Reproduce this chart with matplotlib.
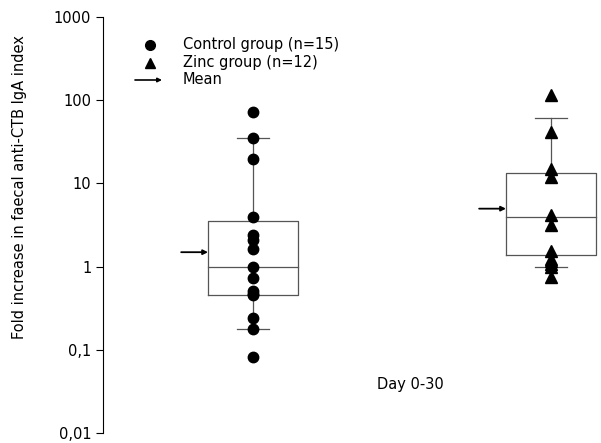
import matplotlib.pyplot as plt
from matplotlib.ticker import FixedLocator, FixedFormatter, NullLocator

# values (log scale)
control = [72, 34.7, 19.4, 4.0, 2.38, 2.07, 1.64, 1.0, 0.72, 0.51, 0.47, 0.45, 0.24, 0.18, 0.081]
zinc = [114, 41.8, 14.9, 11.9, 4.13, 3.13, 1.56, 1.24, 1.17, 1.08, 1.0, 0.76]

# box summaries: whisker low, q1, median, q3, whisker high, mean
control_box = dict(whislo=0.18, q1=0.45, med=1.0, q3=3.5, whishi=34.7, mean=1.49)
zinc_box = dict(whislo=1.0, q1=1.39, med=4.0, q3=13.3, whishi=61, mean=4.97)

ticks = [0.01, 0.1, 1, 10, 100, 1000]
tick_labels = ['0,01', '0,1', '1', '10', '100', '1000']

plt.rcParams['font.family'] = 'DejaVu Sans'
plt.rcParams['font.size'] = 10

fig = plt.figure(figsize=(6.01, 4.43), dpi=100)
ax = fig.add_axes([103 / 601, 10 / 443, 498 / 601, 416 / 443])

box_w = 0.302
cap_w = 0.11
gray = '#555555'

for pos, stats, vals, marker in [(1, control_box, control, 'o'), (2, zinc_box, zinc, '^')]:
    # box
    ax.plot([pos - box_w / 2, pos + box_w / 2, pos + box_w / 2, pos - box_w / 2, pos - box_w / 2],
            [stats['q1'], stats['q1'], stats['q3'], stats['q3'], stats['q1']],
            color=gray, lw=0.9)
    ax.plot([pos - box_w / 2, pos + box_w / 2], [stats['med'], stats['med']], color=gray, lw=0.9)
    # whiskers and caps
    ax.plot([pos, pos], [stats['q3'], stats['whishi']], color=gray, lw=0.9)
    ax.plot([pos, pos], [stats['q1'], stats['whislo']], color=gray, lw=0.9)
    for v in (stats['whislo'], stats['whishi']):
        ax.plot([pos - cap_w / 2, pos + cap_w / 2], [v, v], color=gray, lw=0.9)
    # points
    ax.plot([pos] * len(vals), vals, marker, color='black', ms=7.5 if marker == 'o' else 8,
            linestyle='none', zorder=3)
    # mean arrow
    ax.annotate('', xy=(pos - box_w / 2, stats['mean']), xytext=(pos - box_w / 2 - 0.09, stats['mean']),
                arrowprops=dict(arrowstyle='-|>', color='black', lw=1.3, mutation_scale=7,
                                shrinkA=0, shrinkB=0))

ax.set_yscale('log')
ax.set_ylim(0.01, 1000)
ax.set_xlim(0.4966, 2.168)
ax.yaxis.set_major_locator(FixedLocator(ticks))
ax.yaxis.set_major_formatter(FixedFormatter(tick_labels))
ax.yaxis.set_minor_locator(NullLocator())
ax.set_xticks([])
for s in ['top', 'right', 'bottom']:
    ax.spines[s].set_visible(False)
ax.spines['left'].set_linewidth(0.8)
ax.tick_params(axis='y', direction='out', length=5, width=0.8, labelsize=10.5)

ax.text(1.527, 0.038, 'Day 0-30', ha='center', va='center', fontsize=10.5)
fig.text(20 / 601, 1 - 187 / 443, 'Fold increase in faecal anti-CTB IgA index',
         rotation=90, ha='center', va='center', fontsize=10.5)

# legend drawn by hand
def ax_xy(px, py):
    return (px - 103) / 498, (433 - py) / 416

x, y = ax_xy(150, 45)
ax.plot([x], [y], 'o', color='black', ms=7, transform=ax.transAxes, clip_on=False)
x, y = ax_xy(150, 63)
ax.plot([x], [y], '^', color='black', ms=6.5, transform=ax.transAxes, clip_on=False)
x0, y0 = ax_xy(135, 80)
x1, _ = ax_xy(162, 80)
ax.annotate('', xy=(x1, y0), xytext=(x0, y0), xycoords='axes fraction',
            arrowprops=dict(arrowstyle='-|>', color='black', lw=1.2, mutation_scale=6,
                            shrinkA=0, shrinkB=0))
for py, label in [(45, 'Control group (n=15)'), (63, 'Zinc group (n=12)'), (80, 'Mean')]:
    x, y = ax_xy(183, py)
    ax.text(x, y, label, transform=ax.transAxes, ha='left', va='center', fontsize=10.5)

fig.savefig('out.png', dpi=100)
